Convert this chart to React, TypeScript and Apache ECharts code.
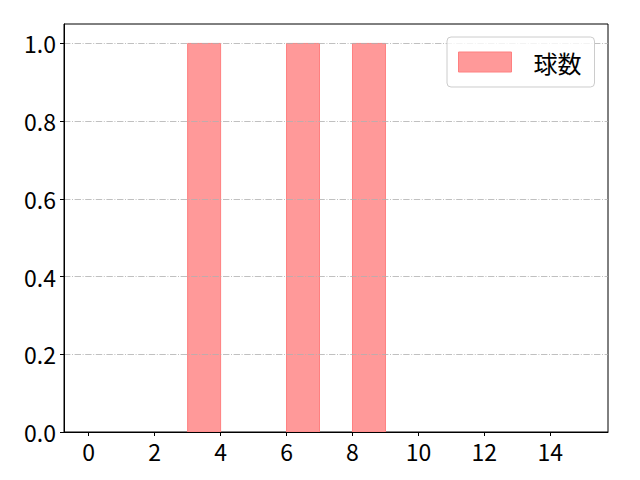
import React, { useEffect, useRef } from "react";
import * as echarts from "echarts";

const binEdges = [0, 1, 2, 3, 4, 5, 6, 7, 8, 9, 10, 11, 12, 13, 14, 15];
const counts = [0, 0, 0, 1, 0, 0, 1, 0, 1, 0, 0, 0, 0, 0, 0];
const xTicks = [0, 2, 4, 6, 8, 10, 12, 14];
const yTicks = [0, 0.2, 0.4, 0.6, 0.8, 1.0];
const seriesName = "球数";

const FONT = "'Noto Sans CJK JP', 'Noto Sans', sans-serif";

export default function App() {
  const ref = useRef<HTMLDivElement>(null);
  useEffect(() => {
    if (!ref.current) return;
    const chart = echarts.init(ref.current, null, { renderer: "svg" });
    const data: number[][] = [];
    for (let i = 0; i < counts.length; i++) {
      if (counts[i] > 0) data.push([binEdges[i], binEdges[i + 1], counts[i]]);
    }
    chart.setOption({
      animation: false,
      backgroundColor: "#fff",
      textStyle: { fontFamily: FONT },
      grid: {
        left: 64,
        right: 32,
        top: 24,
        bottom: 48,
        show: true,
        borderColor: "#000",
        borderWidth: 1,
        backgroundColor: "transparent",
      },
      legend: {
        show: true,
        left: 447,
        top: 37,
        orient: "vertical",
        padding: [13, 13, 13, 11],
        itemWidth: 53,
        itemHeight: 20,
        borderColor: "#cccccc",
        borderWidth: 1,
        borderRadius: 4,
        backgroundColor: "rgba(255,255,255,0.8)",
        textStyle: {
          fontFamily: FONT,
          fontSize: 24,
          color: "#000",
          padding: [0, 0, 0, 17],
        },
        data: [
          {
            name: seriesName,
            icon: "rect",
            itemStyle: { color: "#ff9999", borderColor: "#ff8080", borderWidth: 1 },
          },
        ],
      },
      xAxis: {
        type: "value",
        min: -0.75,
        max: 15.75,
        z: 3,
        splitLine: { show: false },
        axisLine: { show: true, onZero: false, lineStyle: { color: "#000", width: 1 } },
        axisTick: {
          show: true,
          length: 4,
          customValues: xTicks,
          lineStyle: { color: "#000" },
        },
        axisLabel: {
          customValues: xTicks,
          fontSize: 23,
          color: "#000",
          margin: 7,
          fontFamily: FONT,
        },
      },
      yAxis: {
        type: "value",
        min: 0,
        max: 1.05,
        interval: 0.2,
        z: 3,
        axisLine: { show: true, onZero: false, lineStyle: { color: "#000", width: 1 } },
        axisTick: {
          show: true,
          length: 4,
          customValues: yTicks,
          lineStyle: { color: "#000" },
        },
        axisLabel: {
          customValues: yTicks,
          fontSize: 23,
          color: "#000",
          margin: 8,
          fontFamily: FONT,
          formatter: (v: number) => v.toFixed(1),
        },
        splitLine: {
          show: true,
          lineStyle: { color: "#b0b0b0", width: 0.8, type: [6.4, 1.6, 1, 1.6] },
        },
      },
      series: [
        {
          name: seriesName,
          type: "custom",
          z: 1,
          encode: { x: [0, 1], y: 2 },
          data,
          renderItem: (params: any, api: any) => {
            const x0 = api.value(0);
            const x1 = api.value(1);
            const h = api.value(2);
            const p0 = api.coord([x0, h]);
            const p1 = api.coord([x1, 0]);
            return {
              type: "rect",
              shape: { x: p0[0], y: p0[1], width: p1[0] - p0[0], height: p1[1] - p0[1] },
              style: { fill: "#ff9999", stroke: "#ff8080", lineWidth: 1 },
            };
          },
        },
      ],
    });
    return () => chart.dispose();
  }, []);
  return (
    <div
      ref={ref}
      style={{ position: "fixed", left: 0, top: 0, width: 640, height: 480 }}
    />
  );
}
